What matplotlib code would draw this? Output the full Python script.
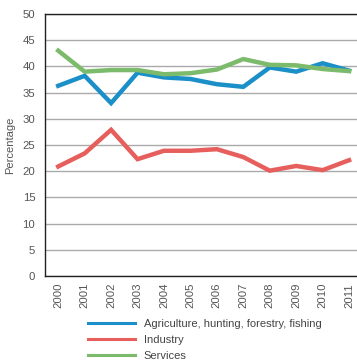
import matplotlib
matplotlib.use("Agg")
import matplotlib.pyplot as plt

years = ["2000", "2001", "2002", "2003", "2004", "2005", "2006", "2007", "2008", "2009", "2010", "2011"]
agriculture = [36.3, 38.2, 33.0, 38.8, 37.9, 37.6, 36.6, 36.1, 39.8, 39.0, 40.6, 39.2]
industry = [20.9, 23.4, 27.9, 22.3, 23.9, 23.9, 24.2, 22.7, 20.1, 21.0, 20.2, 22.1]
services = [43.0, 39.0, 39.3, 39.3, 38.5, 38.7, 39.4, 41.4, 40.3, 40.2, 39.5, 39.1]
series_names = ["Agriculture, hunting, forestry, fishing", "Industry", "Services"]
colors = ["#1a8fc8", "#e65f5c", "#7cbb6b"]
yticks = [0, 5, 10, 15, 20, 25, 30, 35, 40, 45, 50]

plt.rcParams['font.family'] = ['Liberation Sans', 'DejaVu Sans']

fig = plt.figure(figsize=(3.57, 3.62), dpi=100)
ax = fig.add_axes([45/357, 1-276/362, 1-45/357, 262/362])

x = list(range(len(years)))
for vals, name, c in zip([agriculture, industry, services], series_names, colors):
    ax.plot(x, vals, color=c, lw=3.2, label=name, solid_joinstyle='miter', zorder=3)

ax.set_xlim(-0.5, 11.3)
ax.set_ylim(0, 50)
ax.set_yticks(yticks)
ax.set_xticks(x)
ax.set_xticklabels(years, rotation=90)
ax.grid(axis='y', color='#aaaaaa', lw=1.0, zorder=1)
ax.tick_params(axis='y', length=0, labelsize=8.2, colors='#555555', pad=7)
ax.tick_params(axis='x', length=0, labelsize=8.2, colors='#555555', pad=5)
for side in ['left', 'bottom', 'top']:
    ax.spines[side].set_color('#222222')
    ax.spines[side].set_linewidth(1.0)
ax.spines['right'].set_visible(False)
ax.set_ylabel("Percentage", fontsize=8, color='#555555', labelpad=5)

leg = fig.legend(loc='upper left', bbox_to_anchor=(88/357, 1-319/362), frameon=False,
                 fontsize=8, handlelength=4.2, handletextpad=0.8, labelspacing=0.55,
                 borderaxespad=0, borderpad=0)
for t in leg.get_texts():
    t.set_color('#444444')
for h in leg.get_lines():
    h.set_linewidth(2.2)

fig.savefig("out.png", dpi=100)
